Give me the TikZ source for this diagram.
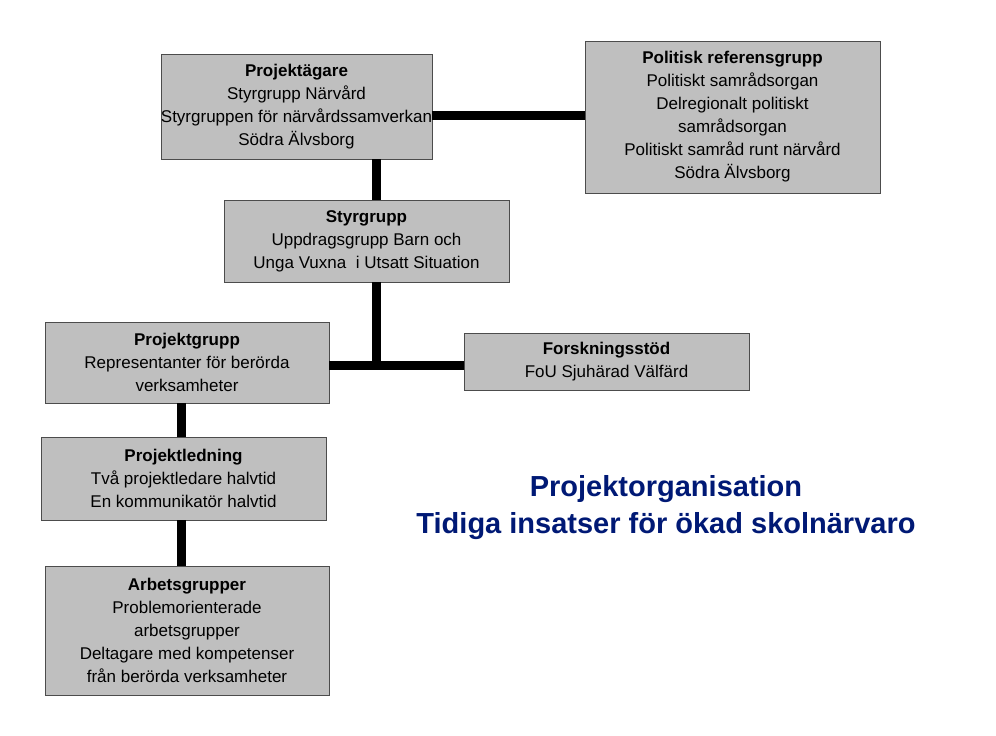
\documentclass[tikz,border=0pt]{standalone}
\usepackage{fontspec}
\setmainfont{Liberation Sans}
\begin{document}
\begin{tikzpicture}[x=1pt,y=-1pt,
  box/.style={draw=black!70,fill=black!25,align=center,inner sep=0pt,font=\fontsize{17}{23}\selectfont},
  conn/.style={line width=9pt,black}]
\useasboundingbox (0,0) rectangle (996,736);
\node[box,minimum width=201pt,minimum height=105pt] (pa) at (296.5,106.5) {\textbf{Projektägare}\\Styrgrupp Närvård\\Styrgruppen för närvårdssamverkan\\Södra Älvsborg};
\node[box,minimum width=295pt,minimum height=152pt] (pr) at (732.5,117) {\textbf{Politisk referensgrupp}\\Politiskt samrådsorgan\\Delregionalt politiskt\\samrådsorgan\\Politiskt samråd runt närvård\\Södra Älvsborg};
\node[box,minimum width=285pt,minimum height=82pt] (sg) at (366.5,241) {\textbf{Styrgrupp}\\Uppdragsgrupp Barn och\\Unga Vuxna\ \ i Utsatt Situation};
\node[box,minimum width=284pt,minimum height=81pt] (pg) at (187,362.5) {\textbf{Projektgrupp}\\Representanter för berörda\\verksamheter};
\node[box,minimum width=285pt,minimum height=57pt] (fs) at (606.5,361.5) {\textbf{Forskningsstöd}\\FoU Sjuhärad Välfärd};
\node[box,minimum width=285pt,minimum height=83pt] (pl) at (183.5,478.5) {\textbf{Projektledning}\\Två projektledare halvtid\\En kommunikatör halvtid};
\node[box,minimum width=284pt,minimum height=129pt] (ag) at (187,630.5) {\textbf{Arbetsgrupper}\\Problemorienterade\\arbetsgrupper\\Deltagare med kompetenser\\från berörda verksamheter};
\coordinate (j) at (376,365);
\draw[conn] (pa.east |- 0,115) -- (pr.west |- 0,115);
\draw[conn] (376,0 |- pa.south) -- (376,0 |- sg.north);
\draw[conn] (376,0 |- sg.south) -- (j);
\draw[conn] (pg.east |- j) -- (fs.west |- j);
\draw[conn] (181,0 |- pg.south) -- (181,0 |- pl.north);
\draw[conn] (181,0 |- pl.south) -- (181,0 |- ag.north);
\node[align=center,text=blue!40!black!90!cyan,font=\fontsize{29}{37}\selectfont\bfseries] (t) at (666,508) {Projektorganisation\\Tidiga insatser för ökad skolnärvaro};
\end{tikzpicture}
\end{document}
